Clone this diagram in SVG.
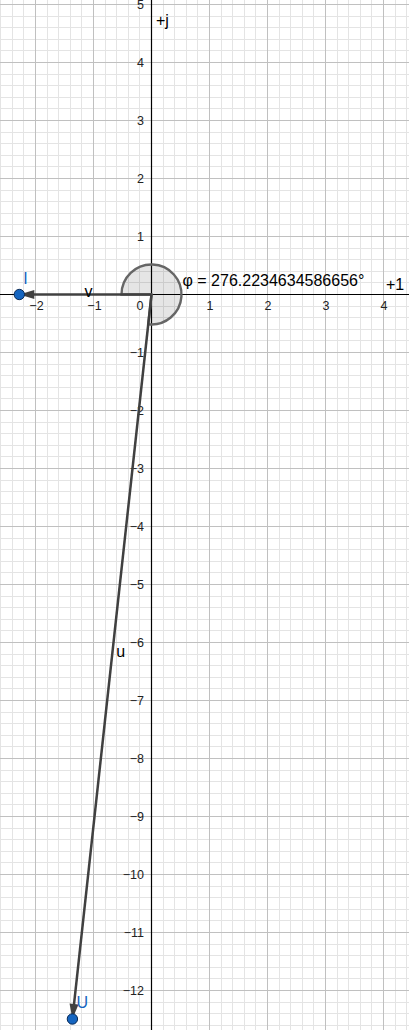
<svg xmlns="http://www.w3.org/2000/svg" width="409" height="1030" viewBox="0 0 409 1030">
<style>
.minor{stroke:#e4e4e4;stroke-width:1;fill:none}
.major{stroke:#c0c0c0;stroke-width:1;fill:none}
.axis{stroke:#000;stroke-width:1.2;fill:none}
.tick{font-family:"Liberation Sans",Arial,sans-serif;font-size:12.5px;fill:#222}
.lbl{font-family:"Liberation Sans",Arial,sans-serif;font-size:16px;fill:#000}
.plbl{font-family:"Liberation Sans",Arial,sans-serif;font-size:16px;fill:#1565c0}
.vec{stroke:#404040;stroke-width:2.5;fill:none}
.pt{fill:#1565c0;stroke:#0a2a55;stroke-width:1}
</style>
<defs>
<marker id="arr" markerUnits="userSpaceOnUse" markerWidth="20" markerHeight="12" refX="16" refY="5" orient="auto" viewBox="0 0 20 10">
<path d="M16,5 L1,0.5 L1,9.5 Z" fill="#404040"/>
</marker>
</defs>
<rect width="409" height="1030" fill="#fff"/>
<g id="grid">
<path class="minor" d="M0.5 0V1030M12.5 0V1030M23.5 0V1030M47.5 0V1030M58.5 0V1030M70.5 0V1030M81.5 0V1030M105.5 0V1030M116.5 0V1030M128.5 0V1030M139.5 0V1030M163.5 0V1030M174.5 0V1030M186.5 0V1030M197.5 0V1030M221.5 0V1030M232.5 0V1030M244.5 0V1030M255.5 0V1030M279.5 0V1030M290.5 0V1030M302.5 0V1030M313.5 0V1030M337.5 0V1030M348.5 0V1030M360.5 0V1030M371.5 0V1030M395.5 0V1030M406.5 0V1030"/>
<path class="minor" d="M0 16.5H409M0 27.5H409M0 39.5H409M0 50.5H409M0 74.5H409M0 85.5H409M0 97.5H409M0 108.5H409M0 132.5H409M0 143.5H409M0 155.5H409M0 166.5H409M0 190.5H409M0 201.5H409M0 213.5H409M0 224.5H409M0 248.5H409M0 259.5H409M0 271.5H409M0 282.5H409M0 306.5H409M0 317.5H409M0 329.5H409M0 340.5H409M0 364.5H409M0 375.5H409M0 387.5H409M0 398.5H409M0 422.5H409M0 433.5H409M0 445.5H409M0 456.5H409M0 480.5H409M0 491.5H409M0 503.5H409M0 514.5H409M0 538.5H409M0 549.5H409M0 561.5H409M0 572.5H409M0 596.5H409M0 607.5H409M0 619.5H409M0 630.5H409M0 654.5H409M0 665.5H409M0 677.5H409M0 688.5H409M0 712.5H409M0 723.5H409M0 735.5H409M0 746.5H409M0 770.5H409M0 781.5H409M0 793.5H409M0 804.5H409M0 828.5H409M0 839.5H409M0 851.5H409M0 862.5H409M0 886.5H409M0 897.5H409M0 909.5H409M0 920.5H409M0 944.5H409M0 955.5H409M0 967.5H409M0 978.5H409M0 1002.5H409M0 1013.5H409M0 1025.5H409"/>
<path class="major" d="M35.5 0V1030M93.5 0V1030M209.5 0V1030M267.5 0V1030M325.5 0V1030M383.5 0V1030"/>
<path class="major" d="M0 4.5H409M0 62.5H409M0 120.5H409M0 178.5H409M0 236.5H409M0 352.5H409M0 410.5H409M0 468.5H409M0 526.5H409M0 584.5H409M0 642.5H409M0 700.5H409M0 758.5H409M0 816.5H409M0 874.5H409M0 932.5H409M0 990.5H409"/>
</g>
<g id="axes">
<path class="axis" d="M0 294.5H409M151.5 0V1030"/>
<g class="tick" text-anchor="middle">
<text x="36.5" y="310">−2</text>
<text x="94.5" y="310">−1</text>
<text x="210" y="310">1</text>
<text x="268" y="310">2</text>
<text x="326" y="310">3</text>
<text x="384" y="310">4</text>
</g>
<g class="tick" text-anchor="end">
<text x="143.5" y="310">0</text>
<text x="144" y="9">5</text>
<text x="144" y="67">4</text>
<text x="144" y="125">3</text>
<text x="144" y="183">2</text>
<text x="144" y="241">1</text>
<text x="144" y="357">−1</text>
<text x="144" y="415">−2</text>
<text x="144" y="473">−3</text>
<text x="144" y="531">−4</text>
<text x="144" y="589">−5</text>
<text x="144" y="647">−6</text>
<text x="144" y="705">−7</text>
<text x="144" y="763">−8</text>
<text x="144" y="821">−9</text>
<text x="144" y="879">−10</text>
<text x="144" y="937">−11</text>
<text x="144" y="995">−12</text>
</g>
<text class="lbl" x="386" y="290">+1</text>
<text class="lbl" x="156" y="25.5">+j</text>
</g>
<g id="angle-phi">
<path d="M151.5,294.5 L148.25,324.32 A30,30 0 1,0 121.5,294.5 Z" fill="#000" fill-opacity="0.1" stroke="#666" stroke-width="2.4"/>
<text class="lbl" x="182.5" y="286">φ = 276.2234634586656°</text>
</g>
<g id="connectors">
<line id="v" class="vec" x1="151.5" y1="294.5" x2="19.3" y2="294.5" marker-end="url(#arr)"/>
<line id="u" class="vec" x1="151.5" y1="294.5" x2="72.4" y2="1019" marker-end="url(#arr)"/>
<text class="lbl" x="84.5" y="297">v</text>
<text class="lbl" x="116.3" y="657">u</text>
</g>
<g id="point-I">
<circle class="pt" cx="19.3" cy="294.5" r="5.2"/>
<text class="plbl" x="23.3" y="284.3">I</text>
</g>
<g id="point-U">
<circle class="pt" cx="72.4" cy="1019" r="5.2"/>
<text class="plbl" x="76.5" y="1007.6">U</text>
</g>
</svg>
